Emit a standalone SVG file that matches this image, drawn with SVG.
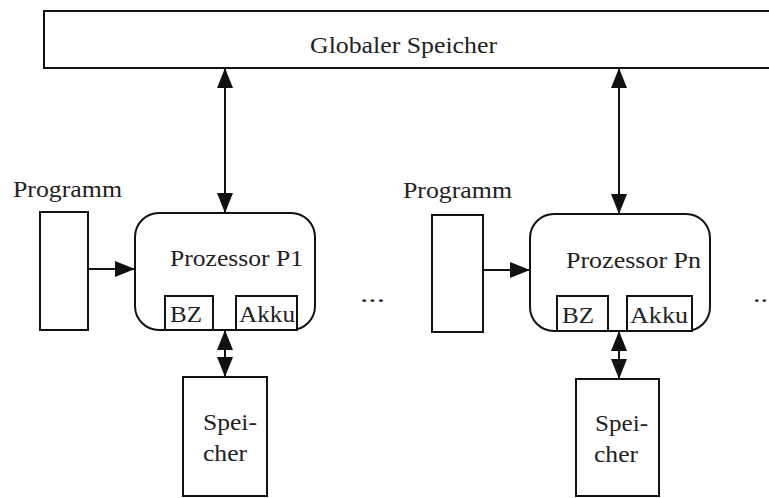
<svg xmlns="http://www.w3.org/2000/svg" width="769" height="498" viewBox="0 0 769 498">
<style>
.box{fill:#fff;stroke:#111;stroke-width:2}
.ln{fill:none;stroke:#111;stroke-width:2}
text{font-family:"Liberation Serif","Times New Roman",serif;font-size:23px;fill:#222}
</style>
<defs>
<marker id="ah" markerUnits="userSpaceOnUse" markerWidth="20" markerHeight="16" refX="19" refY="8" orient="auto-start-reverse">
<path d="M0,0 L20,8 L0,16 z" fill="#111"/>
</marker>
</defs>
<rect width="769" height="498" fill="#fff"/>
<g id="global">
<path class="ln" d="M775,11 H44 V68 H775"/>
<text x="310" y="53" textLength="187" lengthAdjust="spacingAndGlyphs" style="font-size:24px">Globaler Speicher</text>
</g>
<g id="prog1">
<text x="13" y="197" textLength="109" lengthAdjust="spacingAndGlyphs">Programm</text>
<rect class="box" x="40" y="212" width="48" height="118"/>
</g>
<g id="proc1">
<rect class="box" x="135" y="213" width="180" height="117" rx="24"/>
<text x="170" y="266" textLength="133" lengthAdjust="spacingAndGlyphs">Prozessor P1</text>
<rect class="box" x="165" y="296" width="48" height="34"/>
<text x="170" y="322" textLength="32" lengthAdjust="spacingAndGlyphs">BZ</text>
<rect class="box" x="236" y="296" width="61" height="34"/>
<text x="239" y="322" textLength="56" lengthAdjust="spacingAndGlyphs">Akku</text>
</g>
<g id="mem1">
<rect class="box" x="183" y="377" width="84" height="119"/>
<text x="203" y="430" textLength="54" lengthAdjust="spacingAndGlyphs">Spei-</text>
<text x="203" y="461" textLength="44" lengthAdjust="spacingAndGlyphs">cher</text>
</g>
<g id="dots1"><text x="360" y="302" textLength="25" lengthAdjust="spacingAndGlyphs">...</text></g>
<g id="prog2">
<text x="403" y="198" textLength="109" lengthAdjust="spacingAndGlyphs">Programm</text>
<rect class="box" x="432" y="215" width="51" height="117"/>
</g>
<g id="procn">
<rect class="box" x="530" y="214" width="180" height="117" rx="24"/>
<text x="566" y="268" textLength="135" lengthAdjust="spacingAndGlyphs">Prozessor Pn</text>
<rect class="box" x="557" y="296" width="51" height="35"/>
<text x="562" y="323" textLength="32" lengthAdjust="spacingAndGlyphs">BZ</text>
<rect class="box" x="627" y="296" width="65" height="35"/>
<text x="630" y="323" textLength="58" lengthAdjust="spacingAndGlyphs">Akku</text>
</g>
<g id="memn">
<rect class="box" x="576" y="379" width="83" height="117"/>
<text x="595" y="431" textLength="53" lengthAdjust="spacingAndGlyphs">Spei-</text>
<text x="594" y="462" textLength="44" lengthAdjust="spacingAndGlyphs">cher</text>
</g>
<g id="dots2"><text x="753" y="302" textLength="15" lengthAdjust="spacingAndGlyphs">..</text></g>
<g id="connectors">
<line class="ln" x1="225" y1="69" x2="225" y2="212" marker-start="url(#ah)" marker-end="url(#ah)"/>
<line class="ln" x1="619" y1="69" x2="619" y2="213" marker-start="url(#ah)" marker-end="url(#ah)"/>
<line class="ln" x1="88" y1="269" x2="134" y2="269" marker-end="url(#ah)"/>
<line class="ln" x1="483" y1="270" x2="529" y2="270" marker-end="url(#ah)"/>
<line class="ln" x1="225" y1="331" x2="225" y2="376" marker-start="url(#ah)" marker-end="url(#ah)"/>
<line class="ln" x1="619" y1="332" x2="619" y2="378" marker-start="url(#ah)" marker-end="url(#ah)"/>
</g>
</svg>
